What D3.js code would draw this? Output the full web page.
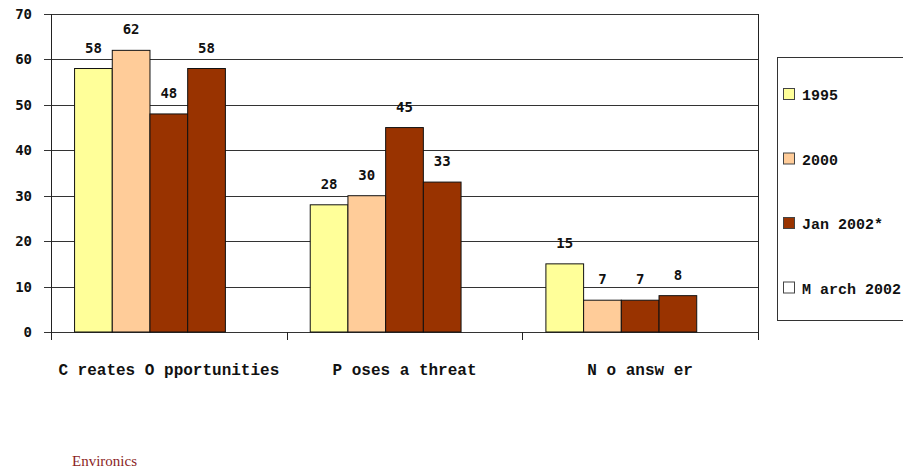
<!DOCTYPE html>
<html>
<head>
<meta charset="utf-8">
<script src="https://cdn.jsdelivr.net/npm/d3@7"></script>
<style>
  body { margin: 0; background: #fff; }
  svg { display: block; }
</style>
</head>
<body>
<svg id="chart" width="903" height="470"></svg>
<script>
// Chart data
const categories = ['C reates O pportunities', 'P oses a threat', 'N o answ er'];
const seriesNames = ['1995', '2000', 'Jan 2002*', 'M arch 2002'];
const seriesColors = ['#ffff99', '#ffcc99', '#993300', '#ffffff'];
const values1995 = [58, 28, 15];
const values2000 = [62, 30, 7];
const valuesJan2002 = [48, 45, 7];
const valuesMar2002 = [58, 33, 8];
const valuesMarch2002 = [null, null, null];
const yTicks = [0, 10, 20, 30, 40, 50, 60, 70];

// Note: the 4th drawn bar in each group belongs to the dark series too (same colour as Jan 2002*)
const barSeries = [
  {name: '1995', values: values1995, color: '#ffff99'},
  {name: '2000', values: values2000, color: '#ffcc99'},
  {name: 'Jan 2002*', values: valuesJan2002, color: '#993300'},
  {name: 'Jan 2002* b', values: valuesMar2002, color: '#993300'},
  {name: 'M arch 2002', values: valuesMarch2002, color: '#ffffff'}
];

const svg = d3.select('#chart');
const plot = {left: 51, right: 758, top: 14, bottom: 332};

const x0 = d3.scaleBand()
  .domain(categories)
  .range([plot.left, plot.right])
  .padding(0);

const x1 = d3.scaleBand()
  .domain(barSeries.map(s => s.name))
  .range([0, x0.bandwidth()])
  .paddingInner(0)
  .paddingOuter(0.625);

const y = d3.scaleLinear()
  .domain([0, 70])
  .range([plot.bottom, plot.top]);

// Gridlines
svg.append('g')
  .selectAll('line')
  .data(yTicks)
  .join('line')
  .attr('x1', plot.left - 7)
  .attr('x2', plot.right)
  .attr('y1', d => Math.round(y(d)) + 0.5)
  .attr('y2', d => Math.round(y(d)) + 0.5)
  .attr('stroke', '#333')
  .attr('stroke-width', 1);

// Y tick labels
svg.append('g')
  .selectAll('text')
  .data(yTicks)
  .join('text')
  .attr('x', 32)
  .attr('y', d => y(d))
  .attr('dy', '0.36em')
  .attr('text-anchor', 'end')
  .attr('font-family', 'DejaVu Sans Mono')
  .attr('font-weight', 'bold')
  .attr('font-size', '14px')
  .attr('fill', '#111')
  .text(d => d);

// Bars
const rows = barSeries.flatMap(s => categories.map((c, i) => ({cat: c, series: s.name, value: s.values[i], color: s.color})))
  .filter(d => d.value !== null);

svg.append('g')
  .selectAll('rect')
  .data(rows)
  .join('rect')
  .attr('x', d => x0(d.cat) + x1(d.series))
  .attr('y', d => y(d.value))
  .attr('width', x1.bandwidth())
  .attr('height', d => y(0) - y(d.value))
  .attr('fill', d => d.color)
  .attr('stroke', '#111')
  .attr('stroke-width', 1);

// Value labels
svg.append('g')
  .selectAll('text')
  .data(rows)
  .join('text')
  .attr('x', d => x0(d.cat) + x1(d.series) + x1.bandwidth() / 2)
  .attr('y', d => y(d.value) - 16)
  .attr('text-anchor', 'middle')
  .attr('font-family', 'DejaVu Sans Mono')
  .attr('font-weight', 'bold')
  .attr('font-size', '14px')
  .attr('fill', '#111')
  .text(d => d.value);

// Axes lines
svg.append('line')
  .attr('x1', plot.left + 0.5).attr('x2', plot.left + 0.5)
  .attr('y1', plot.top).attr('y2', plot.bottom + 8)
  .attr('stroke', '#222');

svg.append('line')
  .attr('x1', plot.right + 0.5).attr('x2', plot.right + 0.5)
  .attr('y1', plot.top).attr('y2', plot.bottom + 8)
  .attr('stroke', '#222');

// Category boundary ticks
const bounds = categories.map(c => x0(c)).concat([plot.right]);
svg.append('g')
  .selectAll('line')
  .data(bounds)
  .join('line')
  .attr('x1', d => Math.round(d) + 0.5)
  .attr('x2', d => Math.round(d) + 0.5)
  .attr('y1', plot.bottom)
  .attr('y2', plot.bottom + 8)
  .attr('stroke', '#222');

// Category labels
svg.append('g')
  .selectAll('text')
  .data(categories)
  .join('text')
  .attr('x', d => x0(d) + x0.bandwidth() / 2)
  .attr('y', 375)
  .attr('text-anchor', 'middle')
  .attr('font-family', 'Liberation Mono')
  .attr('font-weight', 'bold')
  .attr('font-size', '16px')
  .attr('fill', '#111')
  .text(d => d);

// Legend
const legend = svg.append('g');
legend.append('rect')
  .attr('x', 777.5)
  .attr('y', 57.5)
  .attr('width', 140)
  .attr('height', 263)
  .attr('fill', '#fff')
  .attr('stroke', '#333');

const legendItems = legend.selectAll('g.item')
  .data(seriesNames)
  .join('g')
  .attr('class', 'item')
  .attr('transform', (d, i) => `translate(783, ${95 + i * 64.5})`);

legendItems.append('rect')
  .attr('x', 0.5)
  .attr('y', -6.5)
  .attr('width', 11)
  .attr('height', 11)
  .attr('fill', (d, i) => seriesColors[i])
  .attr('stroke', '#444');

legendItems.append('text')
  .attr('x', 19)
  .attr('y', 0)
  .attr('dy', '0.36em')
  .attr('font-family', 'Liberation Mono')
  .attr('font-weight', 'bold')
  .attr('font-size', '15px')
  .attr('fill', '#111')
  .text(d => d);

// Source
svg.append('text')
  .attr('x', 72)
  .attr('y', 466)
  .attr('font-family', 'Liberation Serif')
  .attr('font-size', '15px')
  .attr('fill', '#8b1e1e')
  .text('Environics');
</script>
</body>
</html>
